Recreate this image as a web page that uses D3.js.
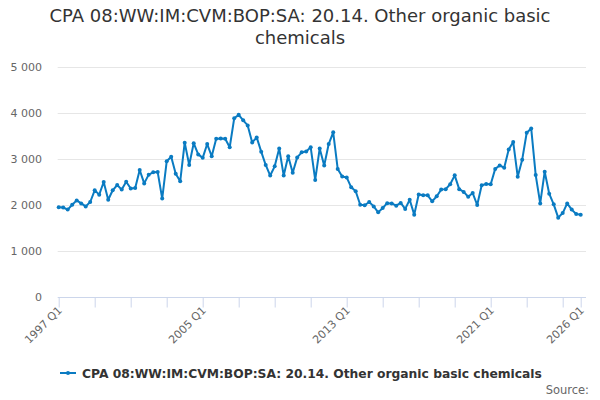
<!DOCTYPE html>
<html><head><meta charset="utf-8">
<script src="https://cdn.jsdelivr.net/npm/d3@7"></script>
<style>body{margin:0;background:#fff}svg{display:block;font-family:"DejaVu Sans",sans-serif}</style>
</head><body><svg id="c" width="600" height="400"></svg>
<script>
const title = ["CPA 08:WW:IM:CVM:BOP:SA: 20.14. Other organic basic", "chemicals"];
const seriesName = "CPA 08:WW:IM:CVM:BOP:SA: 20.14. Other organic basic chemicals";
const startYear = 1997;
const values = [
1950,1945,1900,2005,2100,2035,1970,2065,2320,2225,2500,2115,2320,2435,2335,2505,2360,2370,2760,2470,
2660,2710,2715,2140,2950,3050,2680,2515,3355,2870,3345,3100,3025,3325,3060,3440,3445,3440,3255,3885,
3960,3840,3730,3360,3470,3160,2870,2640,2840,3230,2640,3060,2700,3035,3145,3165,3255,2545,3230,2860,
3325,3580,2785,2620,2600,2385,2300,2005,1995,2065,1970,1840,1935,2040,2035,1985,2045,1915,2115,1790,
2230,2210,2210,2080,2190,2335,2345,2450,2645,2345,2285,2180,2260,2000,2430,2455,2450,2785,2860,2810,
3205,3370,2615,2985,3570,3665,2650,2035,2725,2245,2015,1725,1825,2035,1900,1805,1790];
const yTicks = [0,1000,2000,3000,4000,5000];
const labelQuarters = [0,32,64,96,116];

const svg = d3.select("#c");
const m = {l:58.7, r:580.7, t:67, b:297};
const x = d3.scaleLinear().domain([0,116]).range([m.l,m.r]);
const y = d3.scaleLinear().domain([0,5000]).range([m.b,m.t]);
const qLabel = i => (startYear + Math.floor(i/4)) + " Q" + (i%4+1);

svg.append("g").selectAll("text").data(title).join("text")
  .attr("x",300).attr("y",(d,i)=>22+i*22).attr("text-anchor","middle")
  .attr("font-size",18).attr("fill","#333").text(d=>d);

// grid
svg.append("g").selectAll("line").data(yTicks.filter(d=>d>0)).join("line")
  .attr("x1",m.l-1).attr("x2",586).attr("y1",d=>Math.round(y(d))+0.5).attr("y2",d=>Math.round(y(d))+0.5)
  .attr("stroke","#e6e6e6");
svg.append("g").selectAll("text").data(yTicks).join("text")
  .attr("x",42).attr("y",d=>y(d)+4).attr("text-anchor","end")
  .attr("font-size",11).attr("fill","#666").text(d=>d3.format(",")(d).replace(/,/g," "));

// x axis
const xa = svg.append("g").attr("transform",`translate(0,${Math.round(m.b)+0.5})`)
  .call(d3.axisBottom(x).tickValues(d3.range(0,117,8).concat([116])).tickSize(10).tickFormat(""));
xa.select(".domain").attr("stroke","#ccd6eb").attr("d",`M${m.l-1},0H586`);
xa.selectAll(".tick line").attr("stroke","#ccd6eb");
svg.append("g").selectAll("text").data(labelQuarters).join("text")
  .attr("transform",d=>`translate(${x(d)+4},${m.b+14}) rotate(-45)`)
  .attr("text-anchor","end").attr("font-size",11).attr("fill","#666").text(qLabel);

// line
const col = "#0a7bc2";
const pts = values.map((v,i)=>[i,v]);
svg.append("path").datum(pts).attr("fill","none").attr("stroke",col).attr("stroke-width",2)
  .attr("stroke-linejoin","round")
  .attr("d",d3.line().x(d=>x(d[0])).y(d=>y(d[1])));
svg.append("g").selectAll("circle").data(pts).join("circle")
  .attr("cx",d=>x(d[0])).attr("cy",d=>y(d[1])).attr("r",2).attr("fill",col);

// legend
const lg = svg.append("g");
lg.append("line").attr("x1",60).attr("x2",76).attr("y1",373).attr("y2",373).attr("stroke",col).attr("stroke-width",2);
lg.append("circle").attr("cx",68).attr("cy",373).attr("r",2).attr("fill",col);
lg.append("text").attr("x",82).attr("y",377.5).attr("font-size",12.3).attr("font-weight","bold")
  .attr("fill","#333").text(seriesName);
svg.append("text").attr("x",589).attr("y",394).attr("text-anchor","end")
  .attr("font-size",11.5).attr("fill","#666").text("Source:");
</script></body></html>
